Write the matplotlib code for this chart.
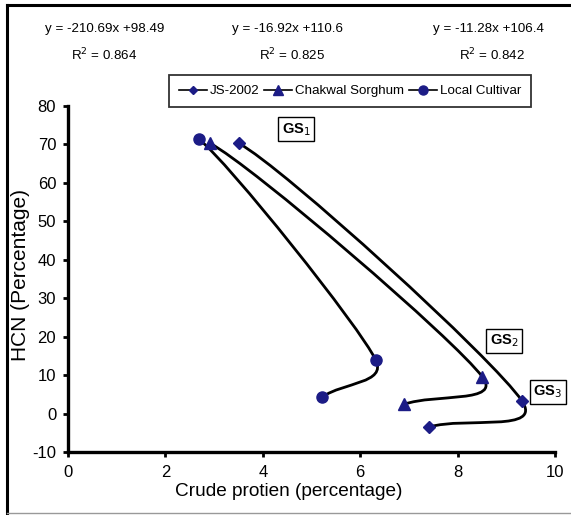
import numpy as np
import matplotlib
matplotlib.use("Agg")
import matplotlib.pyplot as plt
from matplotlib.path import Path
from matplotlib.patches import PathPatch
from matplotlib.lines import Line2D

# ---- data -----------------------------------------------------------------
growth_stages = ["GS$_1$", "GS$_2$", "GS$_3$"]

js_protein = [3.51, 9.32, 7.41]
js_hcn = [70.2, 3.3, -3.5]

chakwal_protein = [2.92, 8.51, 6.90]
chakwal_hcn = [70.2, 9.5, 2.4]

local_protein = [2.69, 6.32, 5.22]
local_hcn = [71.3, 13.9, 4.3]

equations = ["y = -210.69x +98.49", "y = -16.92x +110.6", "y = -11.28x +106.4"]
r_squared = ["0.864", "0.825", "0.842"]

# ---- style -----------------------------------------------------------------
plt.rcParams["axes.unicode_minus"] = False
font = ["Liberation Sans", "DejaVu Sans"]
mark_col = "#1c1c86"

W, H = 571, 515
fig = plt.figure(figsize=(W / 100, H / 100), dpi=100)
ax = fig.add_axes([68 / W, 1 - 452 / H, (555 - 68) / W, (452 - 105.7) / H])
ax.set_xlim(0, 10)
ax.set_ylim(-10, 80)


def unit(v):
    return v / np.linalg.norm(v)


def smooth_path(xs, ys, ks=(0.13, 0.4)):
    # excel-like smoothed line, built as bezier segments in display space
    pts = ax.transData.transform(np.column_stack([xs, ys]))
    n = len(pts)
    tan = [None] * n
    for i in range(1, n - 1):
        tan[i] = unit(pts[i + 1] - pts[i - 1])
    u = unit(pts[1] - pts[0])
    d = u @ tan[1]
    tan[0] = unit(2 * d * u - tan[1]) if d > 0.5 else u
    u = unit(pts[-1] - pts[-2])
    d = u @ tan[-2]
    tan[-1] = unit(2 * d * u - tan[-2]) if d > 0.5 else u
    verts = [pts[0]]
    codes = [Path.MOVETO]
    for i in range(n - 1):
        p0, p1 = pts[i], pts[i + 1]
        h = np.linalg.norm(p1 - p0) * ks[i]
        verts += [p0 + tan[i] * h, p1 - tan[i + 1] * h, p1]
        codes += [Path.CURVE4] * 3
    verts = ax.transData.inverted().transform(np.array(verts))
    return Path(verts, codes)


series = [
    (js_protein, js_hcn, "D", 6, "JS-2002"),
    (chakwal_protein, chakwal_hcn, "^", 8, "Chakwal Sorghum"),
    (local_protein, local_hcn, "o", 8, "Local Cultivar"),
]
handles = []
for xs, ys, mk, ms, name in series:
    ax.add_patch(PathPatch(smooth_path(xs, ys), fill=False, lw=2.0,
                           edgecolor="black", capstyle="round", zorder=2))
    ax.plot(xs, ys, linestyle="none", marker=mk, ms=ms, color=mark_col,
            zorder=3, clip_on=False)
    handles.append(Line2D([], [], color="black", lw=1.2, marker=mk,
                          ms=ms - 1.5, markerfacecolor=mark_col,
                          markeredgecolor=mark_col, label=name))

# growth stage boxes
gs_pos = [(4.68, 73.9), (8.95, 18.85), (9.85, 5.7)]
for lab, (gx, gy) in zip(growth_stages, gs_pos):
    ax.text(gx, gy, lab, ha="center", va="center", fontsize=10.5,
            fontweight="bold", family=font, clip_on=False, zorder=4,
            bbox=dict(boxstyle="square,pad=0.25", fc="white", ec="black", lw=1))

# axes look
for s in ["top", "right"]:
    ax.spines[s].set_visible(False)
for s in ["left", "bottom"]:
    ax.spines[s].set_linewidth(2.4)
ax.set_xticks(range(0, 11, 2))
ax.set_yticks(range(-10, 81, 10))
ax.tick_params(direction="out", length=3.5, width=2, labelsize=12)
ax.tick_params(axis="y", pad=5)
ax.tick_params(axis="x", pad=6)
for t in ax.get_xticklabels() + ax.get_yticklabels():
    t.set_family(font)

fig.text(289 / W, 1 - 491 / H, "Crude protien (percentage)", ha="center",
         va="center", fontsize=13.7, family=font)
fig.text(21 / W, 1 - 275 / H, "HCN (Percentage)", ha="center", va="center",
         rotation=90, fontsize=15, family=font)

# trend line equations
eq_x = [105, 287, 488]
r2_x = [104, 292, 492]
for ex, rx, eq, r2 in zip(eq_x, r2_x, equations, r_squared):
    fig.text(ex / W, 1 - 29 / H, eq, ha="center", va="center", fontsize=9.6,
             family=font)
    fig.text(rx / W, 1 - 55 / H, "R$^2$ = " + r2, ha="center", va="center",
             fontsize=9.6, family=font)

leg = fig.legend(handles=handles, ncol=3, loc="center",
                 bbox_to_anchor=(350 / W, 1 - 91 / H), frameon=True,
                 fancybox=False, handlelength=2.1, handletextpad=0.2,
                 columnspacing=0.4, borderpad=0.75,
                 prop={"family": font, "size": 9.6})
leg.get_frame().set_edgecolor("black")
leg.get_frame().set_linewidth(1.3)

# outer frame of the original picture
fig.add_artist(Line2D([7 / W, 7 / W], [0, 1 - 5 / H], color="black", lw=2.2,
                      transform=fig.transFigure))
fig.add_artist(Line2D([7 / W, 1], [1 - 5 / H, 1 - 5 / H], color="black",
                      lw=2.2, transform=fig.transFigure))
fig.add_artist(Line2D([7 / W, 1], [1 - 513 / H, 1 - 513 / H], color="#999999",
                      lw=1, transform=fig.transFigure))

fig.savefig("out.png", dpi=100)
